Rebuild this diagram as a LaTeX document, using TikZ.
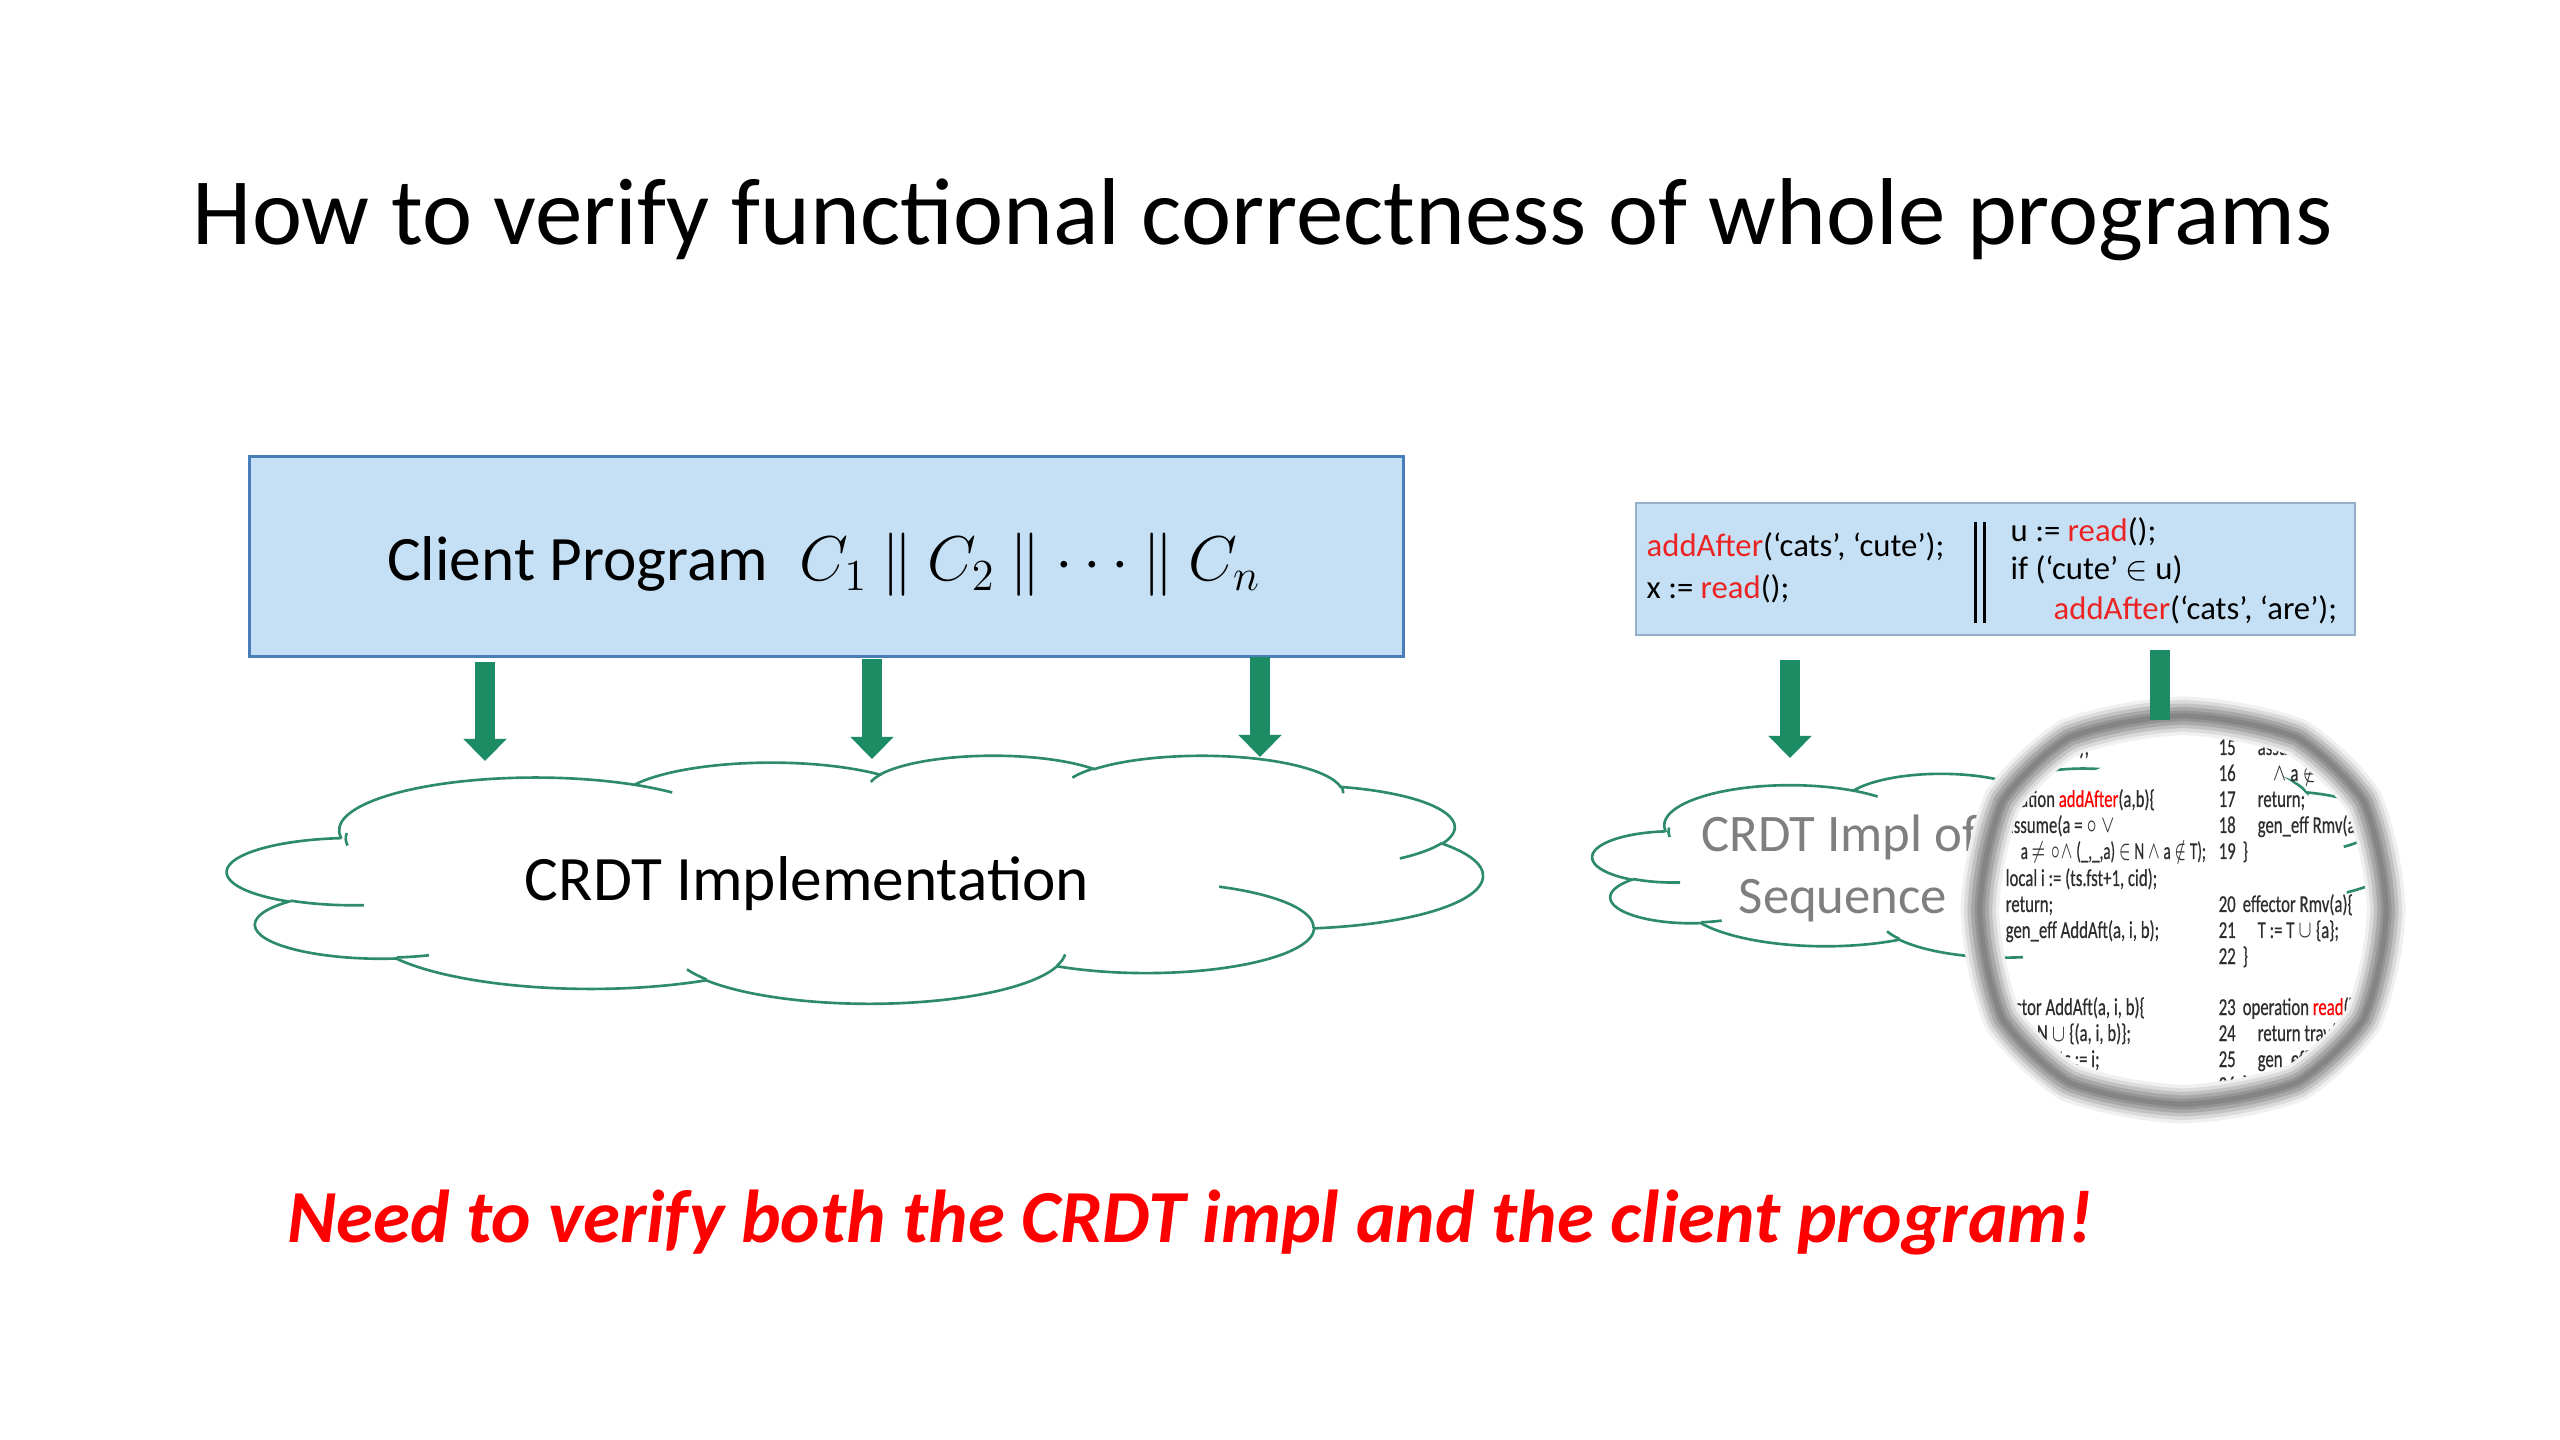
\RequirePackage{fix-cm}
\documentclass[tikz,border=0pt]{standalone}
\usepackage{fontspec}
\usepackage{graphicx}
\setmainfont{Carlito}
\newfontfamily\magfont{Carlito}[FakeBold=0.6]
\usetikzlibrary{arrows.meta}
\definecolor{boxfill}{RGB}{197,224,244}
\definecolor{boxline}{RGB}{74,126,187}
\definecolor{codeline}{RGB}{150,175,200}
\definecolor{arrowgreen}{RGB}{28,140,100}
\definecolor{cloudgreen}{RGB}{46,139,105}
\definecolor{txtgray}{RGB}{127,127,127}
\definecolor{codered}{RGB}{235,35,35}
\tikzset{
 titletext/.style={font=\fontsize{27}{32}\selectfont, anchor=base, inner sep=0},
 clientbox/.style={draw=boxline, fill=boxfill, line width=0.85pt, inner sep=0},
 bigtext/.style={font=\fontsize{18}{22}\selectfont, anchor=base, inner sep=0},
 bigarrow/.style={draw=arrowgreen, line width=5.7pt, -{Triangle[length=6.3pt,width=12pt]}},
 shaftonly/.style={draw=arrowgreen, line width=5.9pt},
 cloudframe/.style={inner sep=0, outer sep=0},
 cloudline/.style={draw=cloudgreen, line width=0.75pt},
 codebox/.style={draw=codeline, fill=boxfill, line width=0.6pt, inner sep=0},
 codetext/.style={font=\fontsize{9.3}{11}\selectfont, anchor=base west, inner sep=0},
 magtext/.style={font=\magfont\fontsize{6.9}{8}\selectfont, anchor=base west, inner sep=0, text=black!82},
 graytext/.style={font=\fontsize{15}{18}\selectfont, text=txtgray, anchor=base, inner sep=0},
 redtext/.style={font=\fontsize{21.3}{26}\selectfont\bfseries\itshape, text=red, anchor=base, inner sep=0},
}
\newcommand\mt[1]{\scalebox{0.69}[1]{#1}}
% PowerPoint-style cloud outline in a 432 x 432 box
\def\cloudpath{(39.00,143.70)
 arc[start angle=-187.745, end angle=-59.67, x radius=67.53, y radius=91.90]
 arc[start angle=-152.02, end angle=-45.46, x radius=53.33, y radius=72.67]
 arc[start angle=-153.48, end angle=-37.32, x radius=43.65, y radius=59.45]
 arc[start angle=-139.71, end angle=-10.21, x radius=48.57, y radius=65.95]
 arc[start angle=-74.76, end angle=23.21, x radius=53.33, y radius=72.73]
 arc[start angle=-37.54, end angle=81.86, x radius=67.75, y radius=92.20]
 arc[start angle=0.46, end angle=122.00, x radius=57.85, y radius=78.67]
 arc[start angle=16.85, end angle=146.25, x radius=67.52, y radius=92.15]
 arc[start angle=59.02, end angle=150.18, x radius=77.20, y radius=105.43]
 arc[start angle=-276.69, end angle=-136.91, x radius=43.60, y radius=59.18]
 arc[start angle=-239.62, end angle=-95.89, x radius=43.45, y radius=59.45]
 -- cycle}
\def\cloudinner{(46.93,261.77) arc[start angle=85.55, end angle=120.38, x radius=43.45, y radius=59.45]
 (69.28,348.99) arc[start angle=68.28, end angle=83.31, x radius=43.60, y radius=59.18]
 (164.78,390.90) arc[start angle=146.25, end angle=158.48, x radius=67.52, y radius=92.15]
 (288.27,347.51) arc[start angle=4.74, end angle=16.85, x radius=67.52, y radius=92.15]
 (341.29,229.54) arc[start angle=-64.00, end angle=0.46, x radius=57.85, y radius=78.67]
 (417.98,153.54) arc[start angle=23.21, end angle=49.67, x radius=53.33, y radius=72.73]
 (383.24,54.26) arc[start angle=-10.21, end angle=0.82, x radius=48.57, y radius=65.95]
 (290.78,39.52) arc[start angle=-156.28, end angle=-139.71, x radius=48.57, y radius=65.95]
 (221.41,47.20) arc[start angle=-167.72, end angle=-153.48, x radius=43.65, y radius=59.45]
 (140.00,51.92) arc[start angle=-59.67, end angle=-45.74, x radius=67.53, y radius=91.90]
 (41.27,157.89) arc[start angle=-187.745, end angle=-174.16, x radius=67.53, y radius=91.90]}
% magnifier outline: slightly squarish, scalloped
\def\magpath{plot[smooth cycle, domain=0:358, samples=180] ({2183+202*(1.006-0.014*abs(sin(6*\x)))*cos(\x)*(abs(cos(\x))+0.0001)^(-0.17)}, {910+193*(1.006-0.014*abs(sin(6*\x)))*sin(\x)*(abs(sin(\x))+0.0001)^(-0.17)})}
\def\magcore{plot[smooth cycle, domain=0:358, samples=90] ({2183+164*cos(\x)*(abs(cos(\x))+0.0001)^(-0.17)}, {910+155*sin(\x)*(abs(sin(\x))+0.0001)^(-0.17)})}
\begin{document}
\begin{tikzpicture}[x=0.01cm,y=-0.01cm]
\fill[white] (0,0) rectangle (2560,1440);
\useasboundingbox (0,0) rectangle (2560,1440);

\node[titletext] (title) at (1263,245) {How to verify functional correctness of whole programs};

% left part
\node[clientbox, minimum width=11.53cm, minimum height=1.99cm] (client) at (826.5,556.5) {};
\node[bigtext] (clienttext) at (824,581) {Client Program\hspace{0.5em}$C_1 \mathbin{\|} C_2 \mathbin{\|} \cdots \mathbin{\|} C_n$};

\node[cloudframe, minimum width=12.55cm, minimum height=2.48cm] (cloudL) at (855.5,879) {};
\begin{scope}[shift={(cloudL.north west)}, xscale=2.9051, yscale=0.57407]
 \draw[cloudline] \cloudpath;
 \draw[cloudline] \cloudinner;
\end{scope}
\node[bigtext] (cloudLtext) at (807,900) {CRDT Implementation};

\coordinate (a1s) at (485,662); \coordinate (a1e) at (485,761);
\coordinate (a2s) at (872,659); \coordinate (a2e) at (872,759);
\coordinate (a3s) at (1260,657); \coordinate (a3e) at (1260,757);
\draw[bigarrow] (a1s) -- (a1e);
\draw[bigarrow] (a2s) -- (a2e);
\draw[bigarrow] (a3s) -- (a3e);

% right part
\node[codebox, minimum width=7.19cm, minimum height=1.32cm] (codebox) at (1995.5,569) {};
\node[codetext] (c1) at (1646,557) {\textcolor{codered}{addAfter}(‘cats’, ‘cute’);};
\node[codetext] (c2) at (1646,599) {x := \textcolor{codered}{read}();};
\node[codetext] (c3) at (2010,542) {u := \textcolor{codered}{read}();};
\node[codetext] (c4) at (2010,580) {if (‘cute’ $\in$ u)};
\node[codetext] (c5) at (2053,620) {\textcolor{codered}{addAfter}(‘cats’, ‘are’);};
\draw[line width=0.85pt] (1975,522) -- (1975,623) (1984,522) -- (1984,623);

\node[cloudframe, minimum width=8.04cm, minimum height=1.89cm] (cloudR) at (1995,862.5) {};
\begin{scope}[shift={(cloudR.north west)}, xscale=1.8611, yscale=0.4375]
 \draw[cloudline] \cloudpath;
 \draw[cloudline] \cloudinner;
\end{scope}
\node[graytext] (cloudRt1) at (1840,852) {CRDT Impl of};
\node[graytext] (cloudRt2) at (1843,913) {Sequence};

\coordinate (a4s) at (1790,660); \coordinate (a4e) at (1790,758);
\draw[bigarrow] (a4s) -- (a4e);

% magnifier
\begin{scope}
\clip \magpath;
\fill[white] \magcore;
\node[magtext] (l2n) at (1973,755) {\mt{2}};
\node[magtext] (l2) at (2005,755) {\mt{ts := (0, cid);}};
\node[magtext] (l3n) at (1973,807) {\mt{3}};
\node[magtext] (l3) at (1988,807) {\mt{operation \textcolor{red}{addAfter}(a,b)\{}};
\node[magtext] (l4n) at (1973,833) {\mt{4}};
\node[magtext] (l4) at (2005,833) {\mt{assume(a = $\circ$ $\vee$}};
\node[magtext] (l5n) at (1973,859) {\mt{5}};
\node[magtext] (l5) at (2020,859) {\scalebox{0.62}[1]{a $\neq \circ \wedge$ (\_,\_,a) $\in$ N $\wedge$ a $\notin$ T);}};
\node[magtext] (l6n) at (1973,886) {\mt{6}};
\node[magtext] (l6) at (2005,886) {\mt{local i := (ts.fst+1, cid);}};
\node[magtext] (l7n) at (1973,912) {\mt{7}};
\node[magtext] (l7) at (2005,912) {\mt{return;}};
\node[magtext] (l8n) at (1973,938) {\mt{8}};
\node[magtext] (l8) at (2005,938) {\mt{gen\_eff AddAft(a, i, b);}};
\node[magtext] (l9n) at (1973,964) {\mt{9}};
\node[magtext] (l9) at (1988,964) {\mt{\}}};
\node[magtext] (l10n) at (1964,1015) {\mt{10}};
\node[magtext] (l10) at (1988,1015) {\mt{effector AddAft(a, i, b)\{}};
\node[magtext] (l11n) at (1964,1041) {\mt{11}};
\node[magtext] (l11) at (2005,1041) {\mt{N := N $\cup$ \{(a, i, b)\};}};
\node[magtext] (l12n) at (1964,1067) {\mt{12}};
\node[magtext] (l12) at (2058,1067) {\mt{ts := i;}};
\node[magtext] (l13n) at (1964,1093) {\mt{13}};
\node[magtext] (l13) at (1988,1093) {\mt{\}}};
\node[magtext] (r14n) at (2218,729) {\mt{14}};
\node[magtext] (r14) at (2242,729) {\mt{operation remove(a)\{}};
\node[magtext] (r15n) at (2218,755) {\mt{15}};
\node[magtext] (r15) at (2257,755) {\mt{assume(a}};
\node[magtext] (r16n) at (2218,781) {\mt{16}};
\node[magtext] (r16) at (2272,781) {\mt{$\wedge$ a $\notin$ T $\wedge$}};
\node[magtext] (r17n) at (2218,807) {\mt{17}};
\node[magtext] (r17) at (2257,807) {\mt{return;}};
\node[magtext] (r18n) at (2218,833) {\mt{18}};
\node[magtext] (r18) at (2257,833) {\mt{gen\_eff Rmv(a);}};
\node[magtext] (r19n) at (2218,859) {\mt{19}};
\node[magtext] (r19) at (2242,859) {\mt{\}}};
\node[magtext] (r20n) at (2218,912) {\mt{20}};
\node[magtext] (r20) at (2242,912) {\mt{effector Rmv(a)\{}};
\node[magtext] (r21n) at (2218,938) {\mt{21}};
\node[magtext] (r21) at (2257,938) {\mt{T := T $\cup$ \{a\};}};
\node[magtext] (r22n) at (2218,964) {\mt{22}};
\node[magtext] (r22) at (2242,964) {\mt{\}}};
\node[magtext] (r23n) at (2218,1015) {\mt{23}};
\node[magtext] (r23) at (2242,1015) {\mt{operation \textcolor{red}{read}()\{}};
\node[magtext] (r24n) at (2218,1041) {\mt{24}};
\node[magtext] (r24) at (2257,1041) {\mt{return trav(N, T);}};
\node[magtext] (r25n) at (2218,1067) {\mt{25}};
\node[magtext] (r25) at (2257,1067) {\mt{gen\_eff Read();}};
\node[magtext] (r26n) at (2218,1093) {\mt{26}};
\node[magtext] (r26) at (2242,1093) {\mt{\}}};
\end{scope}
\draw[black!6, line width=11pt] \magpath;
\draw[black!14, line width=9pt] \magpath;
\draw[black!24, line width=7pt] \magpath;
\draw[black!34, line width=5pt] \magpath;
\draw[black!42, line width=3pt] \magpath;
\draw[black!48, line width=1.5pt] \magpath;

\coordinate (a5s) at (2160,650); \coordinate (a5e) at (2160,720);
\draw[shaftonly] (a5s) -- (a5e);

\node[redtext] (need) at (1190,1242) {Need to verify both the CRDT impl and the client program!};
\end{tikzpicture}
\end{document}
